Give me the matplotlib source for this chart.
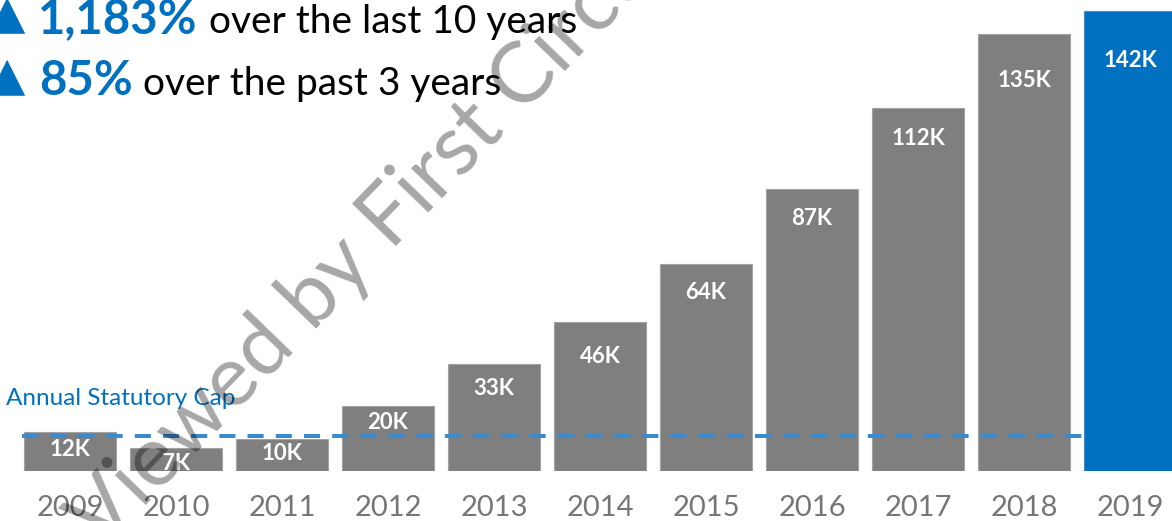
import matplotlib
matplotlib.use("Agg")
import matplotlib.pyplot as plt

years = ['2009', '2010', '2011', '2012', '2013', '2014', '2015', '2016', '2017', '2018', '2019']
petitions_k = [12, 7, 10, 20, 33, 46, 64, 87, 112, 135, 142]
bar_labels = ['12K', '7K', '10K', '20K', '33K', '46K', '64K', '87K', '112K', '135K', '142K']
cap_k = 10.8
headline = [('1,183%', 'over the last 10 years'), ('85%', 'over the past 3 years')]

# how far below each bar top the value label sits (pixels)
label_drop_px = [17, 15, 15, 16, 24, 35, 29, 29, 30, 47, 50]

GRAY = '#7f7f7f'
BLUE = '#0070c0'
plt.rcParams['font.family'] = ['Lato', 'DejaVu Sans']


def main():
    W, H = 1172, 521
    fig = plt.figure(figsize=(W / 100, H / 100), dpi=100)
    ax = fig.add_axes([0, 50 / H, 1, 471 / H])

    x = list(range(len(years)))
    colors = [GRAY] * (len(years) - 1) + [BLUE]
    edges = ['#a3a3a3'] * (len(years) - 1) + ['#4a86c8']
    bars = ax.bar(x, petitions_k, width=0.868, color=colors, edgecolor=edges, linewidth=0.8)
    for b in bars[:-1]:
        b.set_zorder(2)
    bars[-1].set_zorder(4)

    # statutory cap line, stops at the last bar
    ax.hlines(cap_k, -0.45, 9.57, colors='#3a8ad0', linewidth=2.9,
              linestyles=(0, (4, 3)), zorder=3)
    ax.text(-0.6, cap_k + 9.5, 'Annual Statutory Cap', color=BLUE, fontsize=17.5,
            va='baseline', ha='left')

    for xi, v, lab, d in zip(x, petitions_k, bar_labels, label_drop_px):
        ax.annotate(lab, (xi, v), xytext=(0, -d * 0.72), textcoords='offset points',
                    ha='center', va='center', color='white', fontsize=16,
                    fontweight='bold', zorder=5)

    ax.set_xlim(-70 / 106, (W - 70) / 106)
    ax.set_ylim(0, 471 / 3.24)
    ax.set_xticks(x)
    ax.set_xticklabels(years, fontsize=21, color='#767676')
    ax.tick_params(axis='x', length=0, pad=17)
    ax.set_yticks([])
    for s in ax.spines.values():
        s.set_visible(False)

    # headline lines at the top left
    baselines = [33, 95]
    bold_x = [38, 39]
    rest_x = [209, 143]
    for (pct, rest), by, bx, rx in zip(headline, baselines, bold_x, rest_x):
        yy = 1 - by / H
        fig.text(-11 / W, yy + 6 / H, '\u25b2', color=BLUE, fontsize=34, va='baseline',
                 family=['DejaVu Sans'])
        fig.text(bx / W, yy, pct, color=BLUE, fontsize=34, fontweight='bold', va='baseline')
        fig.text(rx / W, yy, rest, color='black', fontsize=28, va='baseline')

    # watermark
    fig.text(380 / W, 1 - 228 / H, 'Viewed by First Circuit', fontsize=61, color='black',
             alpha=0.35, rotation=46, ha='center', va='center',
             rotation_mode='anchor', zorder=10)

    fig.savefig('out.png', dpi=100)


if __name__ == "__main__":
    main()
